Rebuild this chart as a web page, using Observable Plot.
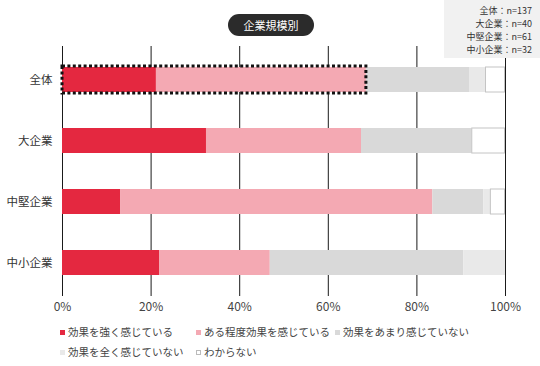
<!DOCTYPE html>
<html><head><meta charset="utf-8">
<script src="https://cdn.jsdelivr.net/npm/d3@7"></script>
<script src="https://cdn.jsdelivr.net/npm/@observablehq/plot@0.6"></script>
<style>
body{margin:0;background:#fff;font-family:"Noto Sans CJK JP","Noto Sans",sans-serif;}
#wrap{position:relative;width:540px;height:366px;overflow:hidden;}
#title{position:absolute;left:228px;top:14px;width:86px;height:22px;border-radius:11px;background:#2b2b2b;color:#fff;font-size:11px;line-height:22px;text-align:center;}
#nbox{position:absolute;left:444px;top:0;width:96px;height:58px;background:#f1f1f1;box-sizing:border-box;padding:4px 8px 0 0;text-align:right;font-size:9px;line-height:13px;color:#333;}
#legend{position:absolute;left:0;top:322px;width:540px;font-size:10.5px;color:#444;}
.li{position:absolute;white-space:nowrap;line-height:20px;}
.sw{display:inline-block;width:5px;height:5px;margin-right:3px;vertical-align:1px;box-sizing:border-box;}
</style></head>
<body><div id="wrap"><div id="chart"></div><div id="title"></div><div id="nbox"></div><div id="legend"></div></div>
<script>
const categories = ["全体", "大企業", "中堅企業", "中小企業"];
const sampleSizes = ["全体：n=137", "大企業：n=40", "中堅企業：n=61", "中小企業：n=32"];
const series = ["効果を強く感じている", "ある程度効果を感じている", "効果をあまり感じていない", "効果を全く感じていない", "わからない"];
const strong   = [21.2, 32.5, 13.1, 21.9];
const some     = [47.4, 35.0, 70.5, 25.0];
const notMuch  = [23.4, 25.0, 11.5, 43.7];
const notAtAll = [3.6, 0, 1.6, 9.4];
const unknown  = [4.4, 7.5, 3.3, 0];
const xTicks = [0, 20, 40, 60, 80, 100];
const colors = ["#e42840", "#f4a9b3", "#d9d9d9", "#e9e9e9", "#ffffff"];
const titleText = "企業規模別";

const valuesBySeries = [strong, some, notMuch, notAtAll, unknown];
const table = [];
categories.forEach((c, i) => series.forEach((s, j) => table.push({category: c, series: s, value: valuesBySeries[j][i]})));
const highlight = [{category: categories[0], x1: 0, x2: strong[0] + some[0]}];

const plot = Plot.plot({
  width: 540, height: 320,
  marginLeft: 62, marginRight: 35, marginTop: 46, marginBottom: 24,
  style: {fontFamily: '"Noto Sans CJK JP", sans-serif', background: "transparent"},
  x: {domain: [0, 100], ticks: xTicks, tickFormat: d => d + "%", tickSize: 0, tickPadding: 6, label: null},
  y: {domain: categories, tickSize: 0, tickPadding: 10, label: null, paddingInner: 0.59, paddingOuter: 0.33},
  color: {domain: series, range: colors},
  marks: [
    Plot.ruleX(xTicks, {stroke: "#1a1a1a", strokeWidth: 1}),
    Plot.barX(table, Plot.stackX({x: "value", y: "category", fill: "series"})),
    Plot.barX(table, Plot.stackX({x: "value", y: "category", fill: "none", stroke: "#c4c4c4", strokeWidth: 1,
      strokeOpacity: d => d.series === series[4] && d.value > 0 ? 1 : 0, insetRight: 0.5})),
    Plot.barX(highlight, {x1: "x1", x2: "x2", y: "category", fill: "none", stroke: "#111", strokeWidth: 3, strokeDasharray: "3,2.4", insetTop: -1, insetBottom: -1})
  ]
});
d3.select(plot).select("g[aria-label='x-axis tick label']").attr("font-size", 12).attr("fill", "#444");
d3.select(plot).select("g[aria-label='y-axis tick label']").attr("font-size", 11.5).attr("fill", "#333");
document.getElementById("chart").append(plot);

document.getElementById("title").textContent = titleText;
document.getElementById("nbox").innerHTML = sampleSizes.map(s => `<div>${s}</div>`).join("");

const legendPos = [[60, 0], [196, 0], [335, 0], [60, 20], [196, 20]];
const leg = document.getElementById("legend");
series.forEach((s, i) => {
  const el = document.createElement("div");
  el.className = "li";
  el.style.left = legendPos[i][0] + "px";
  el.style.top = legendPos[i][1] + "px";
  const border = i === 4 ? "border:1px solid #bbb;" : "";
  el.innerHTML = `<span class="sw" style="background:${colors[i]};${border}"></span>${s}`;
  leg.append(el);
});
</script></body></html>
